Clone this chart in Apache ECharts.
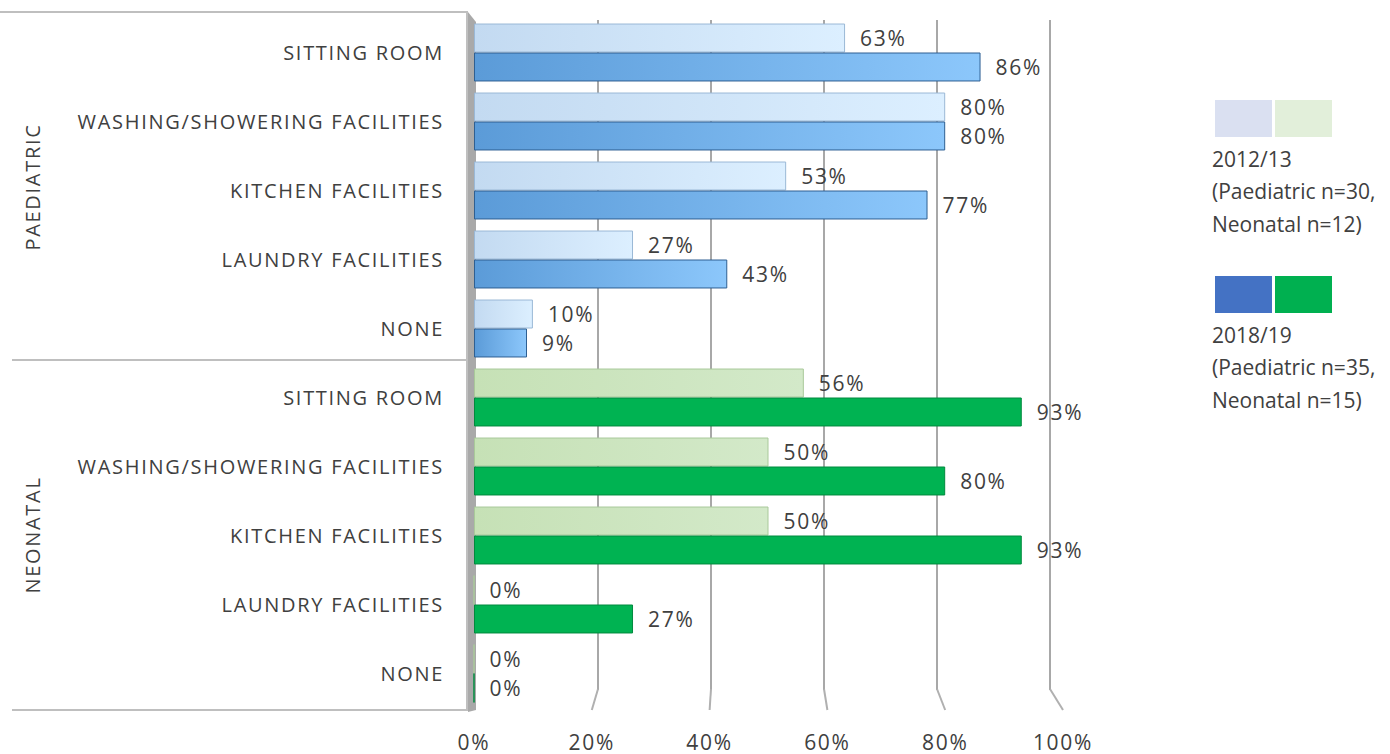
<!DOCTYPE html>
<html>
<head>
<meta charset="utf-8">
<script src="https://cdn.jsdelivr.net/npm/echarts@6/dist/echarts.min.js"></script>
<style>
html,body{margin:0;padding:0;background:#fff;}
#chart{width:1390px;height:754px;}
</style>
</head>
<body>
<div id="chart"></div>
<script>
// ---- data ----
const categories = ['SITTING ROOM','WASHING/SHOWERING FACILITIES','KITCHEN FACILITIES','LAUNDRY FACILITIES','NONE',
                    'SITTING ROOM','WASHING/SHOWERING FACILITIES','KITCHEN FACILITIES','LAUNDRY FACILITIES','NONE'];
const groups = ['PAEDIATRIC','PAEDIATRIC','PAEDIATRIC','PAEDIATRIC','PAEDIATRIC',
                'NEONATAL','NEONATAL','NEONATAL','NEONATAL','NEONATAL'];
const groupNames = ['PAEDIATRIC', 'NEONATAL'];
const values2012 = [63, 80, 53, 27, 10, 56, 50, 50, 0, 0];
const values2018 = [86, 80, 77, 43, 9, 93, 80, 93, 27, 0];
const xTicks = [0, 20, 40, 60, 80, 100];
const legend2012 = ['2012/13', '(Paediatric n=30,', 'Neonatal n=12)'];
const legend2018 = ['2018/19', '(Paediatric n=35,', 'Neonatal n=15)'];

const FONT = '"Open Sans", "Noto Sans", sans-serif';
const TXT = '#404040';

function grad(c1, c2) {
  return new echarts.graphic.LinearGradient(0, 0, 1, 0, [{offset: 0, color: c1}, {offset: 1, color: c2}]);
}
const styles = {
  PAEDIATRIC: {
    old: {color: grad('#c3daf1', '#dcefff'), borderColor: '#9ab8d6', borderWidth: 1},
    neu: {color: grad('#5b9bd8', '#8cc7fb'), borderColor: '#2e5f92', borderWidth: 1}
  },
  NEONATAL: {
    old: {color: grad('#c6e1b6', '#d3e9c9'), borderColor: '#a9c99a', borderWidth: 1},
    neu: {color: '#00b352', borderColor: '#008a3e', borderWidth: 1}
  }
};

const data2012 = values2012.map((v, i) => ({value: v, itemStyle: styles[groups[i]].old}));
const data2018 = values2018.map((v, i) => ({value: v, itemStyle: styles[groups[i]].neu}));

const chart = echarts.init(document.getElementById('chart'), null, {renderer: 'svg'});

const labelCommon = {
  show: true, position: 'right', distance: 15,
  formatter: p => p.value + '%',
  fontFamily: FONT, fontSize: 21, color: TXT
};

function legendBlock(top, c1, c2, lines) {
  const els = [
    {type: 'rect', left: 1215, top: top, shape: {width: 57, height: 37}, style: {fill: c1}},
    {type: 'rect', left: 1275, top: top, shape: {width: 57, height: 37}, style: {fill: c2}}
  ];
  lines.forEach((t, k) => {
    els.push({type: 'text', left: 1212, top: top + 48 + k * 32.5,
      style: {text: t, font: '21px ' + FONT, fill: TXT}});
  });
  return els;
}

const baseGraphics = [
  {type: 'line', shape: {x1: 0, y1: 12, x2: 468, y2: 12}, style: {stroke: '#bfbfbf', lineWidth: 2}},
  {type: 'line', shape: {x1: 12, y1: 360, x2: 468, y2: 360}, style: {stroke: '#bfbfbf', lineWidth: 2}},
  {type: 'line', shape: {x1: 12, y1: 710, x2: 468, y2: 710}, style: {stroke: '#bfbfbf', lineWidth: 2}},
  {type: 'line', shape: {x1: 467, y1: 12, x2: 467, y2: 711}, style: {stroke: '#bfbfbf', lineWidth: 2}},
  {type: 'polygon', shape: {points: [[468, 12], [476, 22], [476, 710], [468, 712]]}, style: {fill: '#a9a9a9'}, z: -1},
  {type: 'text', x: 32, y: 187, rotation: Math.PI / 2,
    style: {text: groupNames[0], font: '20px ' + FONT, fill: TXT, textAlign: 'center', textVerticalAlign: 'middle'}},
  {type: 'text', x: 32, y: 535, rotation: Math.PI / 2,
    style: {text: groupNames[1], font: '20px ' + FONT, fill: TXT, textAlign: 'center', textVerticalAlign: 'middle'}}
].concat(legendBlock(100, '#dae0f1', '#e2efda', legend2012))
 .concat(legendBlock(276, '#4472c4', '#00b050', legend2018));

chart.setOption({
  animation: false,
  backgroundColor: '#ffffff',
  grid: [
    {left: 474, right: 327, top: 18, bottom: 46},   // bars (front plane)
    {left: 485, right: 340, top: 20, bottom: 64}    // back wall gridlines
  ],
  xAxis: [
    {
      type: 'value', min: 0, max: 100, interval: 20, gridIndex: 0,
      axisLine: {show: false}, axisTick: {show: false},
      axisLabel: {formatter: v => xTicks.includes(v) ? v + '%' : '', fontFamily: FONT, fontSize: 21, color: TXT, margin: 23},
      splitLine: {show: false}
    },
    {
      type: 'value', min: 0, max: 100, interval: 20, gridIndex: 1,
      axisLine: {show: false}, axisTick: {show: false}, axisLabel: {show: false},
      splitLine: {show: true, showMinLine: false, lineStyle: {color: '#a8a8a8', width: 2}}
    }
  ],
  yAxis: [
    {
      type: 'category', data: categories, inverse: true, gridIndex: 0,
      axisLine: {show: false}, axisTick: {show: false},
      axisLabel: {interval: 0, fontFamily: FONT, fontSize: 20, color: TXT, margin: 30, padding: [0, 0, 11, 0]}
    },
    {
      type: 'category', data: categories, inverse: true, gridIndex: 1, show: false
    }
  ],
  series: [
    {name: '2012/13', type: 'bar', data: data2012, barGap: '0%', barCategoryGap: '16%', label: labelCommon, z: 3},
    {name: '2018/19', type: 'bar', data: data2018, barGap: '0%', barCategoryGap: '16%', label: labelCommon, z: 3}
  ],
  graphic: baseGraphics
});

// perspective connectors from the back-wall gridlines to the front axis positions
const diag = xTicks.filter(v => v > 0).map(v => {
  const front = chart.convertToPixel({xAxisIndex: 0}, v);
  const back = chart.convertToPixel({xAxisIndex: 1}, v);
  return {type: 'line', shape: {x1: back, y1: 689, x2: front, y2: 710},
          style: {stroke: '#b0b0b0', lineWidth: 2}, z: 0};
});
chart.setOption({graphic: baseGraphics.concat(diag)}, {replaceMerge: ['graphic']});

// letter spacing like the original (SVG text)
const legendSet = new Set(legend2012.concat(legend2018));
function space() {
  document.querySelectorAll('#chart svg text').forEach(t => {
    const s = t.textContent;
    t.style.letterSpacing = legendSet.has(s) ? '0px' : '1.7px';
  });
}
chart.on('finished', space);
space();
setTimeout(space, 50);
</script>
</body>
</html>
